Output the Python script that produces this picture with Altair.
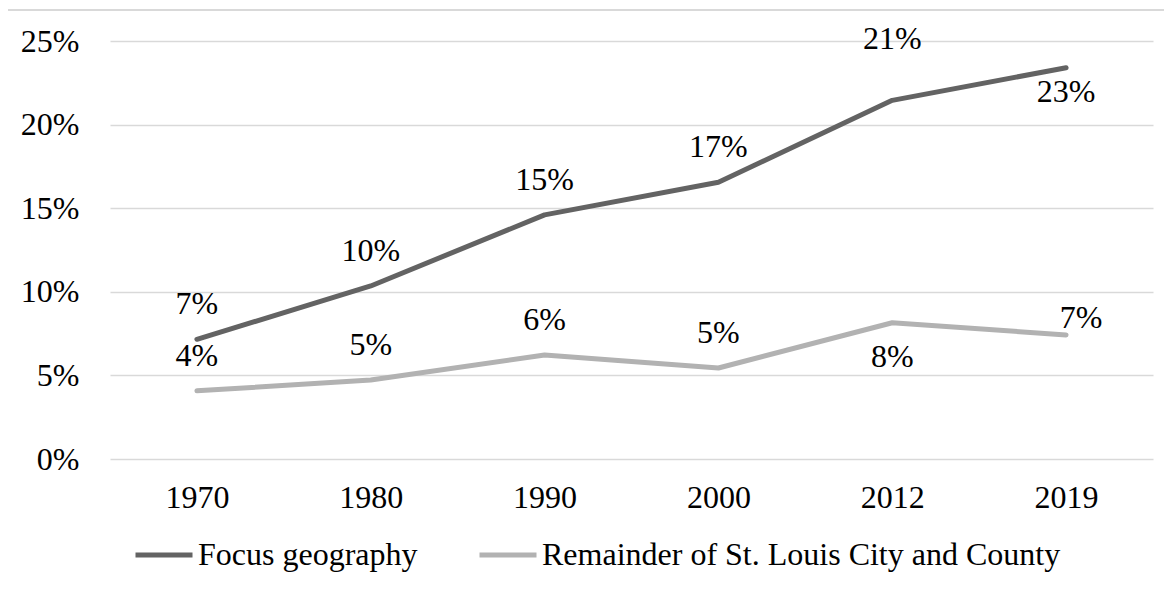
import altair as alt
import pandas as pd

# ---- data ----
years = ["1970", "1980", "1990", "2000", "2012", "2019"]
focus = [0.0716, 0.1035, 0.146, 0.1655, 0.2145, 0.234]
remainder = [0.0408, 0.0472, 0.0622, 0.0544, 0.0815, 0.0742]
series_names = ["Focus geography", "Remainder of St. Louis City and County"]
y_ticks = [0, 0.05, 0.10, 0.15, 0.20, 0.25]
# label placement (categorical) for each data label
focus_label_place = ["above", "above", "above", "above", "high", "below_near"]
remainder_label_place = ["above", "above", "above", "above", "below", "right"]

rows = []
for i, yr in enumerate(years):
    rows.append({"year": yr, "series": series_names[0], "value": focus[i], "place": focus_label_place[i]})
for i, yr in enumerate(years):
    rows.append({"year": yr, "series": series_names[1], "value": remainder[i], "place": remainder_label_place[i]})
df = pd.DataFrame(rows)

FONT = "Liberation Serif"
FS = 32
colors = ["#636363", "#b2b2b2"]

x_enc = alt.X(
    "year:O", sort=years,
    scale=alt.Scale(type="point", padding=0.5),
    axis=alt.Axis(title=None, labelAngle=0, ticks=False, domain=False, grid=False,
                  labelPadding=23, labelBaseline="top"),
)
y_enc = alt.Y(
    "value:Q",
    scale=alt.Scale(domain=[0, 0.25], nice=False),
    axis=alt.Axis(title=None, format=".0%", values=y_ticks, ticks=False, domain=False,
                  labelPadding=31, gridColor="#d9d9d9", gridWidth=1.5),
)
color_enc = alt.Color(
    "series:N", sort=series_names,
    scale=alt.Scale(domain=series_names, range=colors),
    legend=alt.Legend(
        title=None, orient="none", direction="horizontal",
        legendX=23, legendY=483, symbolType="stroke", symbolSize=3249,
        symbolStrokeWidth=5, labelFont=FONT, labelFontSize=FS, labelColor="black",
        labelOffset=3, columnPadding=51, padding=0, labelLimit=800,
    ),
)

lines = alt.Chart(df).mark_line(strokeWidth=5, strokeCap="round", strokeJoin="round").encode(
    x=x_enc, y=y_enc, color=color_enc
)

# label offsets per placement category: (dx, dy)
offsets = {
    "above": (0, -35),
    "high": (0, -61),
    "below": (0, 34),
    "below_near": (0, 24),
    "right": (15, -17),
}

label_layers = []
for place, (ddx, ddy) in offsets.items():
    label_layers.append(
        alt.Chart(df).transform_filter(alt.datum.place == place).mark_text(
            font=FONT, fontSize=FS, color="black", align="center", baseline="middle",
            dx=ddx, dy=ddy,
        ).encode(x=x_enc, y=y_enc, text=alt.Text("value:Q", format=".0%"))
    )

border = alt.Chart(pd.DataFrame({"k": [0]})).mark_rect(
    filled=False, stroke="#d9d9d9", strokeWidth=2
).encode(
    x=alt.value(-104), x2=alt.value(1200), y=alt.value(-31), y2=alt.value(700)
)

chart = alt.layer(border, lines, *label_layers).properties(
    width=1043, height=418,
    padding={"left": 102, "top": 33, "right": 11, "bottom": 126},
    autosize=alt.AutoSizeParams(type="none"),
    background="white",
).configure_view(stroke=None).configure_axis(
    labelFont=FONT, labelFontSize=FS, labelColor="black"
)

chart.save("out.html", embed_options={"renderer": "svg", "actions": False})
